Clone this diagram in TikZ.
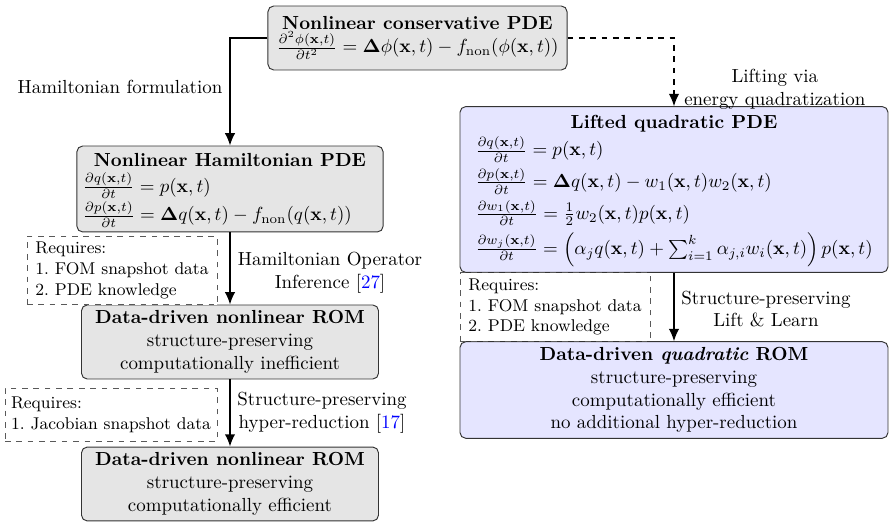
\documentclass[tikz,border=0pt]{standalone}
\usepackage{amsmath,amssymb}
\usepackage{xcolor}
\usetikzlibrary{arrows.meta}

\newcommand{\xx}{\mathbf{x}}
\newcommand{\Lap}{\mathbf{\Delta}}
\newcommand{\cit}[1]{[\textcolor{blue}{#1}]}

\tikzset{
  box/.style={draw=black!80, rounded corners=3pt, fill=gray!20, inner sep=3pt,
              align=center, line width=0.5pt},
  liftbox/.style={box, fill=blue!10},
  reqbox/.style={draw=black!65, dashed, fill=white, align=left, font=\small,
                 inner sep=3pt, line width=0.5pt},
  flow/.style={-{Latex[length=6.5pt,width=5.5pt]}, line width=0.8pt},
  liftflow/.style={-{Latex[length=6.5pt,width=5.5pt]}, line width=0.6pt, dashed},
  lbl/.style={align=center, inner sep=1pt}
}

\begin{document}
\begin{tikzpicture}[x=0.5283pt, y=-0.5283pt]
\useasboundingbox (0,0) rectangle (889,522);

% source PDE
\node[box, minimum width=158pt, minimum height=33.8pt] (top) at (417.5,38)
  {\textbf{Nonlinear conservative PDE}\\
   $\frac{\partial^2\phi(\xx,t)}{\partial t^2} = \Lap\phi(\xx,t) - f_{\mathrm{non}}(\phi(\xx,t))$};

% left branch: Hamiltonian route
\node[box, minimum width=156.9pt, minimum height=45.4pt, inner ysep=2pt] (ham) at (230,189)
  {\begin{tabular}{@{}l@{}}
   \multicolumn{1}{c}{\textbf{Nonlinear Hamiltonian PDE}}\\
   $\frac{\partial q(\xx,t)}{\partial t} = p(\xx,t)$\\[1.5pt]
   $\frac{\partial p(\xx,t)}{\partial t} = \Lap q(\xx,t) - f_{\mathrm{non}}(q(\xx,t))$
   \end{tabular}};

\node[box, minimum width=156.9pt, minimum height=39.1pt] (rom1) at (230,342)
  {\textbf{Data-driven nonlinear ROM}\\ structure-preserving\\ computationally inefficient};

\node[box, minimum width=156.9pt, minimum height=38pt] (rom2) at (230,484)
  {\textbf{Data-driven nonlinear ROM}\\ structure-preserving\\ computationally efficient};

% right branch: lifting route
\node[liftbox, minimum width=226.1pt, minimum height=86.1pt] (lift) at (674,189.5)
  {\begin{tabular}{@{}l@{}}
   \multicolumn{1}{c}{\textbf{Lifted quadratic PDE}}\\[1pt]
   $\frac{\partial q(\xx,t)}{\partial t} = p(\xx,t)$\\[3pt]
   $\frac{\partial p(\xx,t)}{\partial t} = \Lap q(\xx,t) - w_1(\xx,t)w_2(\xx,t)$\\[3pt]
   $\frac{\partial w_1(\xx,t)}{\partial t} = \frac{1}{2}w_2(\xx,t)p(\xx,t)$\\[3.5pt]
   $\frac{\partial w_j(\xx,t)}{\partial t} = \left(\alpha_j q(\xx,t) + \sum_{i=1}^{k}\alpha_{j,i}w_i(\xx,t)\right)p(\xx,t)$
   \end{tabular}};

\node[liftbox, minimum width=226.1pt, minimum height=50.7pt] (qrom) at (674,390)
  {\textbf{Data-driven \textit{quadratic} ROM}\\ structure-preserving\\
   computationally efficient\\ no additional hyper-reduction};

% requirement notes
\node[reqbox, minimum width=100.4pt, minimum height=31.2pt] (req1) at (122,270.5)
  {Requires:\\ 1.\ FOM snapshot data\\ 2.\ PDE knowledge};
\node[reqbox, minimum width=112pt, minimum height=28pt] (req2) at (111,414.5)
  {Requires:\\ 1.\ Jacobian snapshot data};
\node[reqbox, minimum width=100.4pt, minimum height=31.7pt] (req3) at (555,307)
  {Requires:\\ 1.\ FOM snapshot data\\ 2.\ PDE knowledge};

% connectors
\draw[flow] (top.west) -| (ham.north);
\draw[liftflow] (top.east) -| (lift.north);
\draw[flow] (ham.south) -- (rom1.north);
\draw[flow] (rom1.south) -- (rom2.north);
\draw[flow] (lift.south) -- (qrom.north);

% connector labels
\node[lbl, anchor=west] (l2) at (682,89) {Lifting via\\ energy quadratization};
\node[lbl] (l1) at (120,87) {Hamiltonian formulation};
\node[lbl] (l3) at (330,273) {Hamiltonian Operator\\ Inference \cit{27}};
\node[lbl] (l4) at (322,413) {Structure-preserving\\ hyper-reduction \cit{17}};
\node[lbl] (l5) at (766,309) {Structure-preserving\\ Lift \& Learn};
\end{tikzpicture}
\end{document}
